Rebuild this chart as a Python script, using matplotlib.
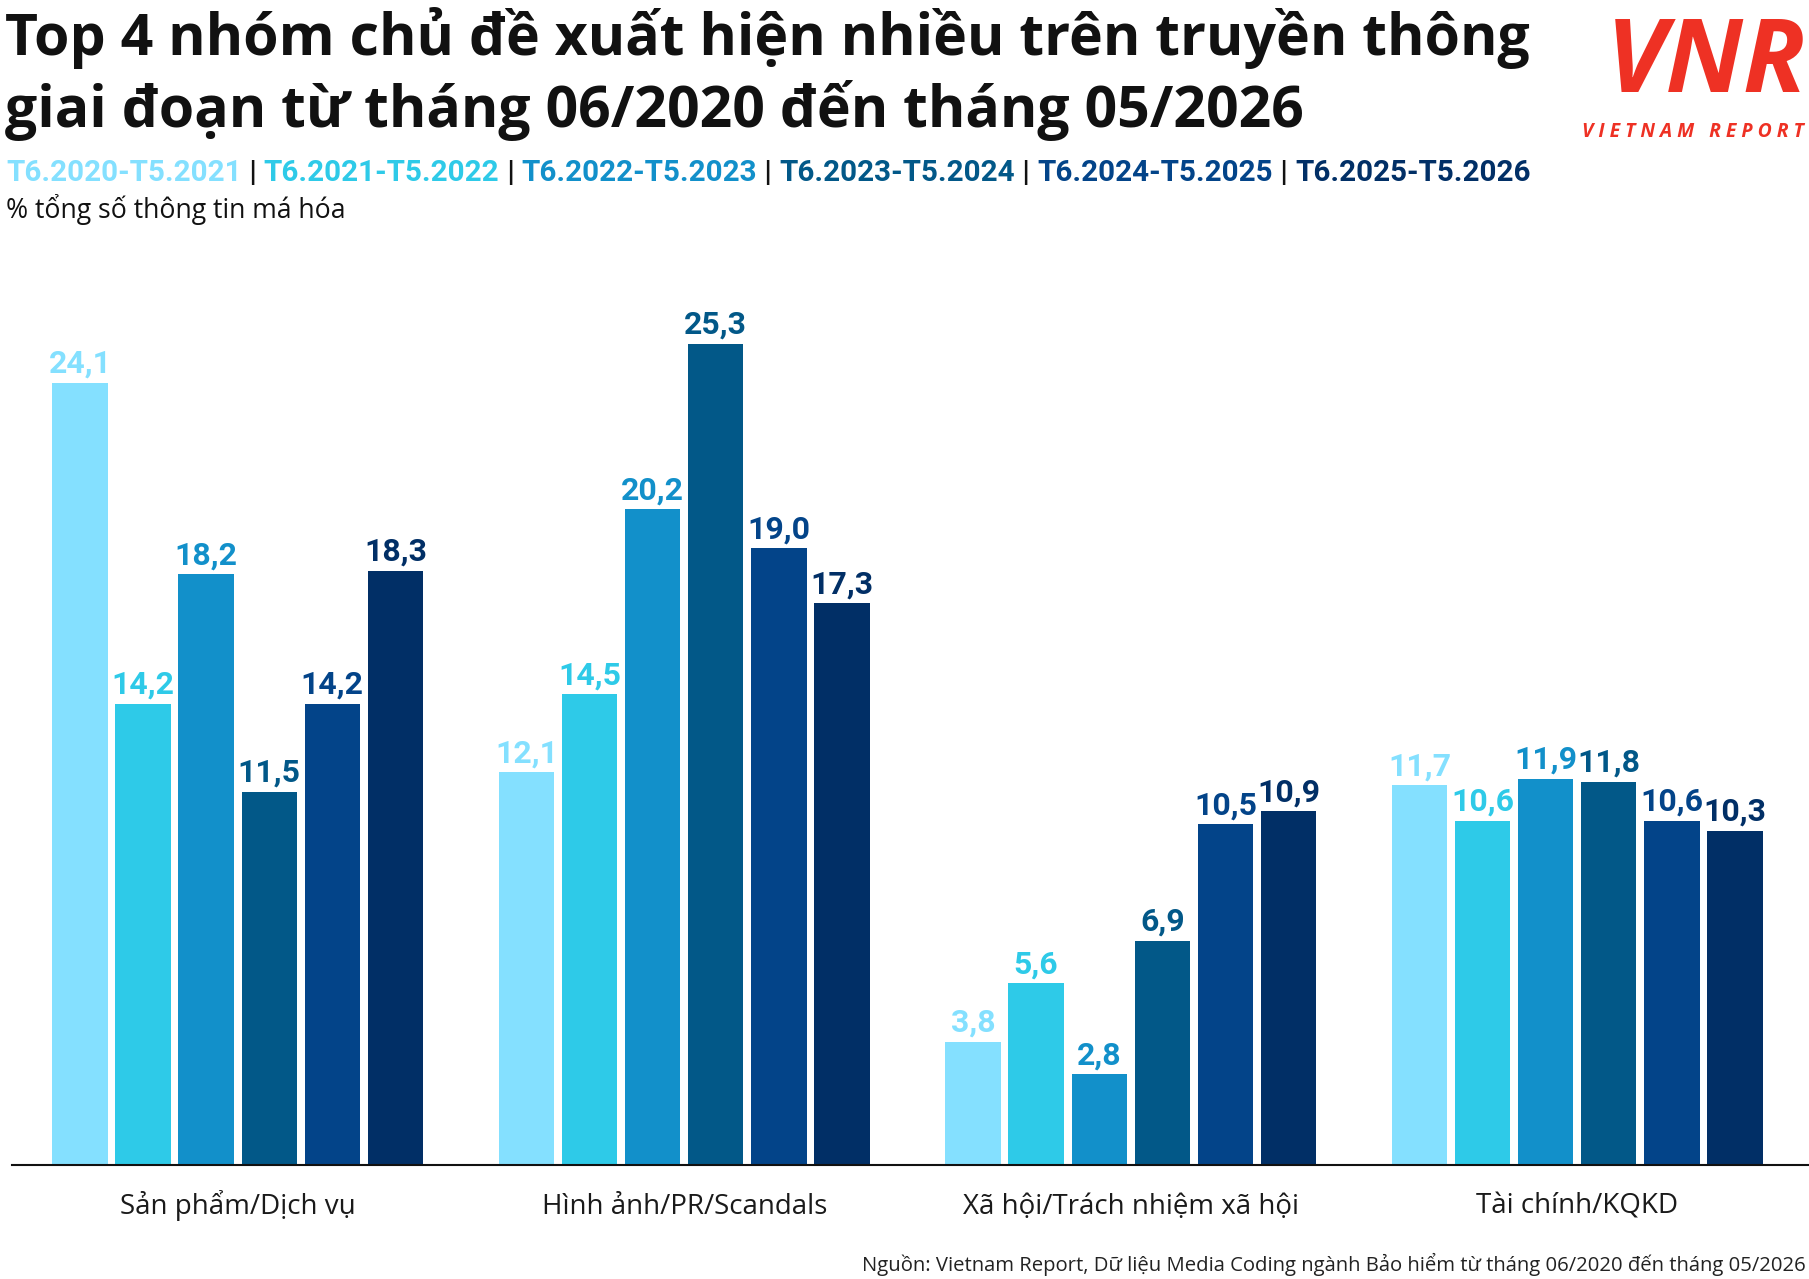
import matplotlib
matplotlib.use("Agg")
import matplotlib.pyplot as plt
from matplotlib import font_manager

W, H = 1809, 1279
DPI = 100

categories = ['Sản phẩm/Dịch vụ', 'Hình ảnh/PR/Scandals',
              'Xã hội/Trách nhiệm xã hội', 'Tài chính/KQKD']
periods = ['T6.2020-T5.2021', 'T6.2021-T5.2022', 'T6.2022-T5.2023',
           'T6.2023-T5.2024', 'T6.2024-T5.2025', 'T6.2025-T5.2026']
v_2021 = [24.1, 12.1, 3.8, 11.7]
v_2022 = [14.2, 14.5, 5.6, 10.6]
v_2023 = [18.2, 20.2, 2.8, 11.9]
v_2024 = [11.5, 25.3, 6.9, 11.8]
v_2025 = [14.2, 19.0, 10.5, 10.6]
v_2026 = [18.3, 17.3, 10.9, 10.3]
series = [v_2021, v_2022, v_2023, v_2024, v_2025, v_2026]
colors = ['#84E0FF', '#2ECAE8', '#1290CA', '#025888', '#034489', '#012F66']

have = {f.name for f in font_manager.fontManager.ttflist}
narrow = next((n for n in ['Liberation Sans Narrow', 'DejaVu Sans Condensed', 'Roboto']
               if n in have), 'DejaVu Sans')
REG = ['Open Sans', 'DejaVu Sans']
NAR = [narrow, 'DejaVu Sans']

fig = plt.figure(figsize=(W / DPI, H / DPI), dpi=DPI)
fig.patch.set_facecolor('white')
renderer = fig.canvas.get_renderer()


def fit_size(txt, target_w, **kw):
    t = fig.text(0, 0, txt, fontsize=40, **kw)
    w = t.get_window_extent(renderer).width
    t.remove()
    return 40 * target_w / w


# ---- bars
ax = fig.add_axes([12 / W, 114 / H, 1797 / W, 909 / H])
pitch = 0.1413
width = 0.124
for i, (vals, c) in enumerate(zip(series, colors)):
    xs = [g + (i - 2.5) * pitch for g in range(len(categories))]
    ax.bar(xs, vals, width=width, color=c, zorder=2)
    for x, v in zip(xs, vals):
        ax.annotate(f"{v:.1f}".replace('.', ','), (x, v), xytext=(0, 10),
                    textcoords='offset pixels', ha='center', va='baseline',
                    fontsize=23, fontweight='bold', color=c, family=NAR)

ax.set_xlim(-0.5055, 3.519)
ax.set_ylim(0, 28)
for s in ['top', 'left', 'right']:
    ax.spines[s].set_visible(False)
ax.spines['bottom'].set_linewidth(1.5)
ax.spines['bottom'].set_color('#111111')
ax.set_xticks([])
ax.set_yticks([])

for g, cat in enumerate(categories):
    ax.annotate(cat, (g, 65), xycoords=('data', 'figure pixels'),
                ha='center', va='baseline', fontsize=20, color='#1a1a1a', family=REG)

# ---- title
t1 = 'Top 4 nhóm chủ đề xuất hiện nhiều trên truyền thông'
t2 = 'giai đoạn từ tháng 06/2020 đến tháng 05/2026'
ts = fit_size(t1, 1523, fontweight='bold', family=REG)
fig.text(5 / W, (H - 55) / H, t1, fontsize=ts, fontweight='bold',
         color='#111111', family=REG, va='baseline')
fig.text(5 / W, (H - 127) / H, t2, fontsize=ts, fontweight='bold',
         color='#111111', family=REG, va='baseline')

# ---- colored period legend line
parts = []
for i, (p, c) in enumerate(zip(periods, colors)):
    if i:
        parts.append((' | ', '#111111'))
    parts.append((p, c))
full = ''.join(p for p, _ in parts)
ls = fit_size(full, 1523, fontweight='bold', family=NAR)
x = 6
for txt, c in parts:
    t = fig.text(x / W, (H - 181) / H, txt, fontsize=ls, fontweight='bold',
                 color=c, family=NAR, va='baseline')
    x += t.get_window_extent(renderer).width

sub = '% tổng số thông tin má hóa'
fig.text(6 / W, (H - 218) / H, sub, fontsize=fit_size(sub, 340, family=REG),
         color='#111111', family=REG, va='baseline')

# ---- source
src = 'Nguồn: Vietnam Report, Dữ liệu Media Coding ngành Bảo hiểm từ tháng 06/2020 đến tháng 05/2026'
fig.text(1806 / W, 8 / H, src, fontsize=fit_size(src, 944, family=REG),
         color='#222222', family=REG, ha='right', va='baseline')

# ---- logo
red = '#EE3124'
fig.text(1806 / W, (H - 92) / H, 'VNR',
         fontsize=fit_size('VNR', 200, fontweight='bold', style='italic', family=REG),
         fontweight='bold', style='italic', color=red, family=REG, ha='right', va='baseline')
brand = 'V I E T N A M   R E P O R T'
fig.text(1804 / W, (H - 137) / H, brand,
         fontsize=fit_size(brand, 222, fontweight='bold', style='italic', family=REG),
         fontweight='bold', style='italic', color=red, family=REG, ha='right', va='baseline')

fig.savefig('out.png', dpi=DPI, facecolor='white')
